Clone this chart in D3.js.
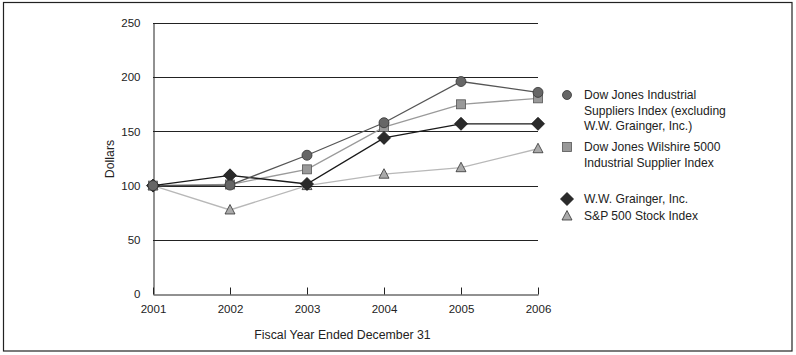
<!DOCTYPE html>
<html><head><meta charset="utf-8">
<script src="https://cdn.jsdelivr.net/npm/d3@7"></script>
<style>body{margin:0;background:#fff}svg{display:block;font-family:"Liberation Sans",Arial,sans-serif}</style>
</head><body><svg id="c" width="796" height="355"></svg>
<script>
const years = [2001, 2002, 2003, 2004, 2005, 2006];
const yTicks = [0, 50, 100, 150, 200, 250];
const djIndustrialSuppliers = [100, 100.5, 128, 158, 196, 186];
const djWilshire5000 = [100, 101, 115, 154, 175, 180.5];
const grainger = [100, 109.5, 101.5, 144, 157, 157];
const sp500 = [100, 77.5, 100, 110.5, 116.5, 134];
const seriesNames = [
  ["Dow Jones Industrial", "Suppliers Index (excluding", "W.W. Grainger, Inc.)"],
  ["Dow Jones Wilshire 5000", "Industrial Supplier Index"],
  ["W.W. Grainger, Inc."],
  ["S&P 500 Stock Index"]
];
const xTitle = "Fiscal Year Ended December 31";
const yTitle = "Dollars";

const series = [
  {vals: djIndustrialSuppliers, shape: "circle", line: "#555", fill: "#666", stroke: "#333"},
  {vals: djWilshire5000, shape: "square", line: "#9a9a9a", fill: "#999", stroke: "#555"},
  {vals: grainger, shape: "diamond", line: "#1a1a1a", fill: "#2a2a2a", stroke: "#111"},
  {vals: sp500, shape: "triangle", line: "#b8b8b8", fill: "#aaa", stroke: "#333"}
];
const svg = d3.select("#c");
svg.append("rect").attr("x", 3.5).attr("y", 2.5).attr("width", 788.5).attr("height", 348.5)
  .attr("fill", "none").attr("stroke", "#222").attr("stroke-width", 1.2);

const x = d3.scaleLinear().domain([2001, 2006]).range([153, 538]);
const y = d3.scaleLinear().domain([0, 250]).range([294, 23]);

svg.append("g").selectAll("line").data(yTicks.filter(d => d > 0)).join("line")
  .attr("x1", x(2001)).attr("x2", x(2006)).attr("y1", d => Math.round(y(d)) + 0.5).attr("y2", d => Math.round(y(d)) + 0.5)
  .attr("stroke", "#222").attr("stroke-width", 1);

const ya = svg.append("g").attr("transform", `translate(${x(2001) + 0.5},0)`)
  .call(d3.axisLeft(y).tickValues(yTicks).tickSize(0).tickPadding(13));
ya.select(".domain").attr("stroke", "#222");
ya.selectAll("text").attr("font-size", 11.5).attr("fill", "#222").attr("font-family", "Liberation Sans, Arial, sans-serif");

const xa = svg.append("g").attr("transform", `translate(0,${Math.round(y(0)) + 0.5})`)
  .call(d3.axisTop(x).tickValues(years).tickFormat(d3.format("d")).tickSizeInner(7).tickSizeOuter(0));
xa.select(".domain").attr("stroke", "#222");
xa.selectAll("line").attr("stroke", "#222");
xa.selectAll("text").attr("font-size", 11.5).attr("fill", "#222").attr("font-family", "Liberation Sans, Arial, sans-serif")
  .attr("y", 18).attr("dy", "0");

svg.append("text").attr("x", 342.5).attr("y", 338.5).attr("text-anchor", "middle").attr("font-size", 12.3).attr("fill", "#222").text(xTitle);
svg.append("text").attr("transform", "translate(114,159) rotate(-90)").attr("text-anchor", "middle")
  .attr("font-size", 12.3).attr("fill", "#222").text(yTitle);

function marker(g, shape, cx, cy, s) {
  if (shape === "circle") return g.append("circle").attr("cx", cx).attr("cy", cy).attr("r", s.r || 5);
  if (shape === "square") return g.append("rect").attr("x", cx - 4.5).attr("y", cy - 4.5).attr("width", 9).attr("height", 9);
  if (shape === "diamond") return g.append("path").attr("d", `M${cx},${cy - 6.5}L${cx + 6.5},${cy}L${cx},${cy + 6.5}L${cx - 6.5},${cy}Z`);
  return g.append("path").attr("d", `M${cx},${cy - 5.5}L${cx + 5},${cy + 4}L${cx - 5},${cy + 4}Z`);
}

const line = d3.line().x((d, i) => x(years[i])).y(d => y(d));
const order = [3, 1, 2, 0];
order.forEach(k => {
  const s = series[k];
  svg.append("path").datum(s.vals).attr("d", line).attr("fill", "none")
    .attr("stroke", s.line).attr("stroke-width", 1.3);
});
order.forEach(k => {
  const s = series[k];
  const g = svg.append("g");
  s.vals.forEach((v, i) => {
    marker(g, s.shape, x(years[i]), y(v), {}).attr("fill", s.fill).attr("stroke", s.stroke).attr("stroke-width", 0.8);
  });
});

const legY = [95, 147, 199, 216];
series.forEach((s, k) => {
  const g = svg.append("g");
  marker(g, s.shape, 567, legY[k], {r: 4.5}).attr("fill", s.fill).attr("stroke", s.stroke).attr("stroke-width", 0.8);
  seriesNames[k].forEach((t, j) => {
    g.append("text").attr("x", 584).attr("y", legY[k] + 4 + j * 15.7).attr("font-size", 12.1).attr("fill", "#222").text(t);
  });
});
</script></body></html>
